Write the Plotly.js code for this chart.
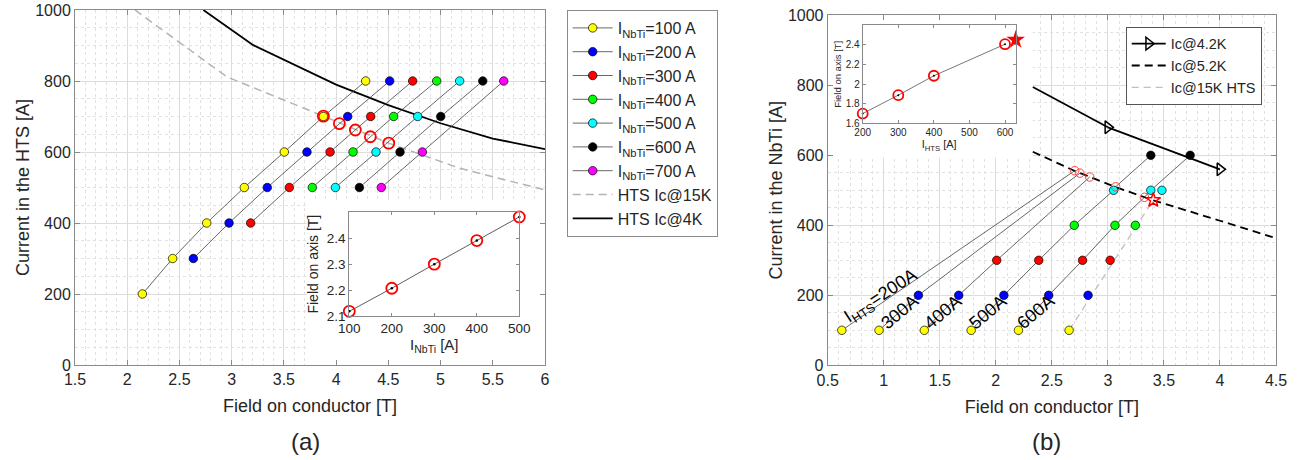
<!DOCTYPE html>
<html><head><meta charset="utf-8">
<script src="https://cdn.plot.ly/plotly-3.0.1.min.js"></script>
<style>html,body{margin:0;padding:0;background:#fff}#chart{width:1303px;height:460px}</style>
</head><body><div id="chart"></div>
<script>
// ================= Panel (a) data =================
const htsA = [200, 300, 400, 500, 600, 700, 800];
const nbtiNamesA = ['I<sub>NbTi</sub>=100 A', 'I<sub>NbTi</sub>=200 A', 'I<sub>NbTi</sub>=300 A', 'I<sub>NbTi</sub>=400 A', 'I<sub>NbTi</sub>=500 A', 'I<sub>NbTi</sub>=600 A', 'I<sub>NbTi</sub>=700 A'];
const fieldA100 = [2.145, 2.435, 2.761, 3.121, 3.504, 3.878, 4.283];
const fieldA200 = [null, 2.633, 2.975, 3.341, 3.721, 4.111, 4.513];
const fieldA300 = [null, null, 3.182, 3.552, 3.942, 4.331, 4.733];
const fieldA400 = [null, null, null, 3.772, 4.162, 4.551, 4.963];
const fieldA500 = [null, null, null, 3.993, 4.382, 4.781, 5.183];
const fieldA600 = [null, null, null, 4.223, 4.612, 5.002, 5.404];
const fieldA700 = [null, null, null, 4.433, 4.826, null, 5.605];
const limitFieldA = [3.878, 4.031, 4.184, 4.328, 4.504];
const limitCurrentA = [701, 680, 662, 643, 625];
const ic15FieldA = [2.074, 2.952, 3.878, 4.504, 5.186, 6.0];
const ic15CurrentA = [1000, 812, 701, 625, 554, 493];
const ic4FieldA = [2.729, 3.207, 4.0, 4.5, 5.0, 5.5, 6.0];
const ic4CurrentA = [1000, 901, 790, 732, 681, 638, 608];
const insetNbtiA = [100, 200, 300, 400, 500];
const insetFieldA = [2.118, 2.207, 2.300, 2.391, 2.482];

// ================= Panel (b) data =================
const nbtiB = [100, 200, 300, 400, 500, 600];
const htsNamesB = ['I<sub>HTS</sub>=200A', '300A', '400A', '500A', '600A'];
const fieldB200 = [0.626];
const fieldB300 = [0.958, 1.309];
const fieldB400 = [1.362, 1.669, 2.008];
const fieldB500 = [1.780, 2.072, 2.383, 2.700, 3.051, 3.383];
const fieldB600 = [2.202, 2.472, 2.774, 3.063, 3.383, 3.734];
const fieldB700 = [2.654, 2.823, 3.020, 3.245, 3.482];
const limitFieldB = [2.704, 2.750, 2.838, 3.069, 3.326];
const limitCurrentB = [556, 549, 538, 510, 480];
const starFieldB = [3.405];
const starCurrentB = [472];
const ic42FieldB = [2.33, 3.0, 4.0];
const ic42CurrentB = [795, 680, 560];
const ic52FieldB = [2.33, 2.70, 3.07, 3.40, 4.0, 4.5];
const ic52CurrentB = [610, 556, 509, 472, 413, 363];
const ic15FieldB = [2.654, 3.405];
const ic15CurrentB = [100, 472];
const insetHtsB = [200, 300, 400, 600];
const insetFieldB = [1.699, 1.887, 2.085, 2.407];
const insetStarHtsB = [630];
const insetStarFieldB = [2.451];

// ================= styles =================
const W = 1303, H = 460;
const FONT = '"Liberation Sans", Arial, Helvetica, sans-serif';
const TXT = '#262626';
const AX = '#8a8a8a';
const dotColors = ['#ffff00', '#0000ff', '#ff0000', '#00ff00', '#00ffff', '#000000', '#ff00ff'];
const px = (x) => x / W;
const py = (y) => 1 - y / H;

const traces = [];

// ---- (a) main ----
traces.push({x: ic15FieldA, y: ic15CurrentA, xaxis: 'x', yaxis: 'y', mode: 'lines', name: 'HTS Ic@15K',
  line: {color: '#b3b3b3', width: 1.5, dash: '8px,5px'}, legend: 'legend', legendrank: 1008});
traces.push({x: ic4FieldA, y: ic4CurrentA, xaxis: 'x', yaxis: 'y', mode: 'lines', name: 'HTS Ic@4K',
  line: {color: '#000000', width: 1.8}, legend: 'legend', legendrank: 1009});
const seriesA = [fieldA100, fieldA200, fieldA300, fieldA400, fieldA500, fieldA600, fieldA700];
seriesA.forEach((arr, k) => {
  traces.push({x: arr, y: htsA, xaxis: 'x', yaxis: 'y', mode: 'lines+markers', name: nbtiNamesA[k],
    connectgaps: true, legend: 'legend', legendrank: 1000 + k,
    line: {color: '#404040', width: 0.8},
    marker: {size: 8.5, color: dotColors[k], line: {color: '#000', width: 0.7}}});
});
traces.push({x: limitFieldA, y: limitCurrentA, xaxis: 'x', yaxis: 'y', mode: 'markers', showlegend: false,
  marker: {symbol: 'circle-open', size: 11, color: '#ff0000', line: {width: 1.8}}});

// ---- (a) inset ----
traces.push({x: insetNbtiA, y: insetFieldA, xaxis: 'x2', yaxis: 'y2', mode: 'lines+markers', showlegend: false,
  cliponaxis: false, line: {color: '#333', width: 0.8}, marker: {size: 2.5, color: '#000'}});
traces.push({x: insetNbtiA, y: insetFieldA, xaxis: 'x2', yaxis: 'y2', mode: 'markers', showlegend: false,
  cliponaxis: false, marker: {symbol: 'circle-open', size: 11, color: '#ff0000', line: {width: 1.8}}});

// ---- (b) main ----
const rowsB = [fieldB200, fieldB300, fieldB400, fieldB500, fieldB600, fieldB700];
traces.push({x: ic15FieldB, y: ic15CurrentB, xaxis: 'x3', yaxis: 'y3', mode: 'lines', name: 'Ic@15K HTS',
  legend: 'legend2', legendrank: 3, line: {color: '#c0c0c0', width: 1.3, dash: '7px,5px'}});
traces.push({x: ic52FieldB, y: ic52CurrentB, xaxis: 'x3', yaxis: 'y3', mode: 'lines', name: 'Ic@5.2K',
  legend: 'legend2', legendrank: 2, line: {color: '#000', width: 1.8, dash: '8px,5px'}});
traces.push({x: ic42FieldB.slice(0, 2), y: ic42CurrentB.slice(0, 2), xaxis: 'x3', yaxis: 'y3', mode: 'lines',
  showlegend: false, line: {color: '#000', width: 1.8}});
traces.push({x: ic42FieldB.slice(1), y: ic42CurrentB.slice(1), xaxis: 'x3', yaxis: 'y3', mode: 'lines+markers',
  name: 'Ic@4.2K', legend: 'legend2', legendrank: 1, line: {color: '#000', width: 1.8},
  marker: {symbol: 'triangle-right-open', size: 11, color: '#000', line: {width: 1.5}}});
// I_HTS lines
for (let j = 0; j < 5; j++) {
  const pts = rowsB[j].map((b, k) => [b, nbtiB[k]]);
  pts.push([limitFieldB[j], limitCurrentB[j]]);
  pts.sort((p, q) => p[1] - q[1]);
  traces.push({x: pts.map(p => p[0]), y: pts.map(p => p[1]), xaxis: 'x3', yaxis: 'y3', mode: 'lines',
    showlegend: false, line: {color: '#404040', width: 0.8}});
}
// coloured points by I_NbTi
for (let k = 0; k < 6; k++) {
  const xs = [], ys = [];
  rowsB.forEach(r => { if (k < r.length) { xs.push(r[k]); ys.push(nbtiB[k]); } });
  traces.push({x: xs, y: ys, xaxis: 'x3', yaxis: 'y3', mode: 'markers', showlegend: false,
    marker: {size: 8.5, color: dotColors[k], line: {color: '#000', width: 0.7}}});
}
traces.push({x: limitFieldB, y: limitCurrentB, xaxis: 'x3', yaxis: 'y3', mode: 'markers', showlegend: false,
  marker: {symbol: 'circle-open', size: 8.5, color: '#ff4040', line: {width: 1}}});
traces.push({x: starFieldB, y: starCurrentB, xaxis: 'x3', yaxis: 'y3', mode: 'markers', showlegend: false,
  marker: {symbol: 'star-open', size: 11, color: '#ff0000', line: {width: 1.5}}});

// ---- (b) inset ----
traces.push({x: insetHtsB, y: insetFieldB, xaxis: 'x4', yaxis: 'y4', mode: 'lines+markers', showlegend: false,
  cliponaxis: false, line: {color: '#555', width: 0.8}, marker: {size: 2, color: '#000'}});
traces.push({x: insetHtsB, y: insetFieldB, xaxis: 'x4', yaxis: 'y4', mode: 'markers', showlegend: false,
  cliponaxis: false, marker: {symbol: 'circle-open', size: 10, color: '#ff0000', line: {width: 1.8}}});
traces.push({x: insetStarHtsB, y: insetStarFieldB, xaxis: 'x4', yaxis: 'y4', mode: 'markers', showlegend: false,
  cliponaxis: false, marker: {symbol: 'star', size: 14, color: '#ff0000', line: {width: 0}}});

// ================= layout =================
function mainAxis(extra) {
  return Object.assign({
    showline: true, linecolor: AX, linewidth: 1, mirror: 'ticks', ticks: 'inside', ticklen: 5, tickcolor: AX,
    tickfont: {size: 16, color: TXT, family: FONT}, showgrid: true, gridcolor: '#dcdcdc', gridwidth: 1,
    zeroline: false, layer: 'above traces'
  }, extra);
}
function insetAxis(extra) {
  return Object.assign({
    showline: true, linecolor: AX, linewidth: 1, mirror: 'ticks', ticks: 'inside', ticklen: 3, tickcolor: AX,
    showgrid: false, zeroline: false
  }, extra);
}
const minorX = {dtick: 0.1, showgrid: true, gridcolor: '#e2e2e2', griddash: 'dot', ticks: ''};
const minorY = {dtick: 50, showgrid: true, gridcolor: '#e2e2e2', griddash: 'dot', ticks: ''};

const layout = {
  width: W, height: H, margin: {l: 0, r: 0, t: 0, b: 0},
  paper_bgcolor: '#fff', plot_bgcolor: '#fff',
  font: {family: FONT, color: TXT},
  xaxis: mainAxis({domain: [px(75), px(545)], anchor: 'y', range: [1.5, 6], dtick: 0.5, tick0: 1.5, minor: minorX,
    title: {text: 'Field on conductor [T]', font: {size: 18, color: TXT}, standoff: 12}}),
  yaxis: mainAxis({domain: [py(365), py(10)], anchor: 'x', range: [0, 1000], dtick: 200, minor: minorY,
    title: {text: 'Current in the HTS [A]', font: {size: 18, color: TXT}}}),
  xaxis2: insetAxis({domain: [px(349.3), px(519.3)], anchor: 'y2', range: [100, 500], tickvals: [100, 200, 300, 400, 500],
    tickfont: {size: 13.5, color: TXT}, title: {text: 'I<sub>NbTi</sub> [A]', font: {size: 15, color: TXT}, standoff: 4}}),
  yaxis2: insetAxis({domain: [py(316), py(212.3)], anchor: 'x2', range: [2.1, 2.5], tickvals: [2.1, 2.2, 2.3, 2.4],
    tickfont: {size: 13.5, color: TXT}, title: {text: 'Field on axis [T]', font: {size: 14, color: TXT}, standoff: 4}}),
  xaxis3: mainAxis({domain: [px(827.7), px(1276)], anchor: 'y3', range: [0.5, 4.5], dtick: 0.5, tick0: 0.5, minor: minorX,
    title: {text: 'Field on conductor [T]', font: {size: 18, color: TXT}, standoff: 12}}),
  yaxis3: mainAxis({domain: [py(365.3), py(15.3)], anchor: 'x3', range: [0, 1000], dtick: 200, minor: minorY,
    title: {text: 'Current in the NbTi [A]', font: {size: 18, color: TXT}}}),
  xaxis4: insetAxis({domain: [px(862.7), px(1015.7)], anchor: 'y4', range: [200, 630], tickvals: [200, 300, 400, 500, 600],
    tickfont: {size: 10, color: TXT}, title: {text: 'I<sub>HTS</sub> [A]', font: {size: 11, color: TXT}, standoff: 2}}),
  yaxis4: insetAxis({domain: [py(123.3), py(25.3)], anchor: 'x4', range: [1.6, 2.6], tickvals: [1.6, 1.8, 2, 2.2, 2.4],
    tickfont: {size: 10, color: TXT}, title: {text: 'Field on axis [T]', font: {size: 9.5, color: TXT}, standoff: 2}}),
  legend: {x: px(566.7), y: py(10), xanchor: 'left', yanchor: 'top', bgcolor: '#fff', bordercolor: AX, borderwidth: 1,
    font: {size: 16, color: TXT}, tracegroupgap: 0, itemwidth: 40, traceorder: 'normal'},
  legend2: {x: px(1125.7), y: py(26.7), xanchor: 'left', yanchor: 'top', bgcolor: '#fff', bordercolor: '#555', borderwidth: 1,
    font: {size: 14.5, color: TXT}, tracegroupgap: 0, itemwidth: 34, traceorder: 'normal'},
  shapes: [
    {type: 'rect', xref: 'x', yref: 'y', x0: 3.718, x1: 6.1, y0: -20, y1: 465, fillcolor: '#fff', line: {width: 0}, layer: 'between'},
    {type: 'rect', xref: 'x3', yref: 'y3', x0: 0.4, x1: 2.33, y0: 593, y1: 1020, fillcolor: '#fff', line: {width: 0}, layer: 'between'}
  ],
  annotations: [
    {text: '(a)', xref: 'paper', yref: 'paper', x: px(305), y: py(441), xanchor: 'center', yanchor: 'middle', showarrow: false, font: {size: 24, color: TXT}},
    {text: '(b)', xref: 'paper', yref: 'paper', x: px(1046), y: py(441), xanchor: 'center', yanchor: 'middle', showarrow: false, font: {size: 24, color: TXT}}
  ]
};
const labelPos = [[0.98, 196, -33], [1.144, 151, -40], [1.530, 151, -40], [1.931, 151, -40], [2.356, 151, -40]];
htsNamesB.forEach((t, j) => {
  layout.annotations.push({text: t, xref: 'x3', yref: 'y3', x: labelPos[j][0], y: labelPos[j][1], textangle: labelPos[j][2],
    showarrow: false, font: {size: 18, color: '#000'}});
});

Plotly.newPlot('chart', traces, layout, {displayModeBar: false, staticPlot: true});
</script>
</body></html>
